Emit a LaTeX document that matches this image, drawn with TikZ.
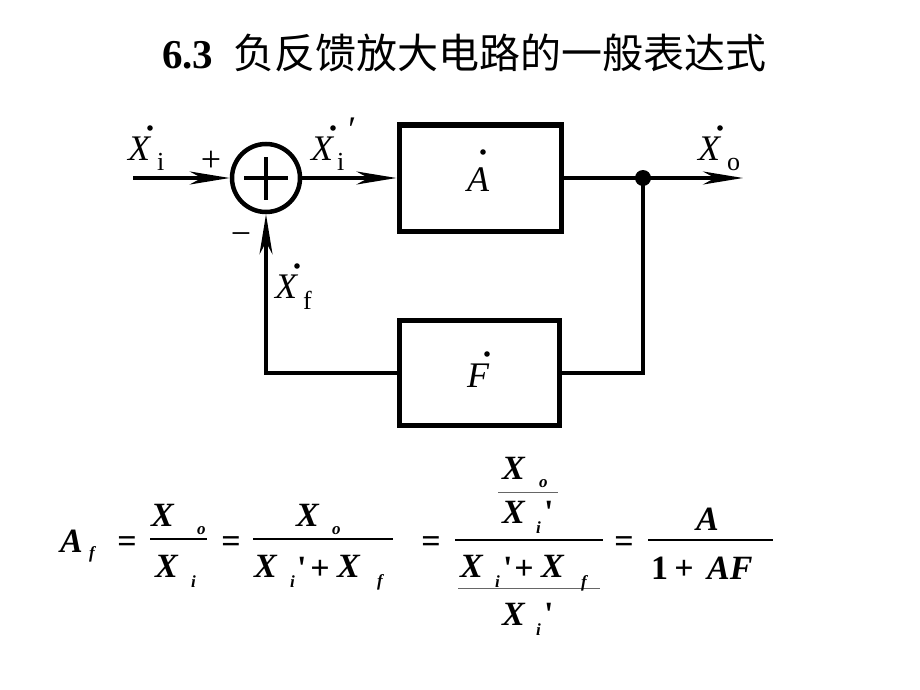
\documentclass[tikz,border=0pt]{standalone}
\usepackage{fontspec}
\setmainfont{Liberation Serif}
\newfontfamily\cjk{Noto Sans CJK SC}
\usetikzlibrary{arrows.meta}
\begin{document}
\begin{tikzpicture}[x=1pt,y=-1pt,
  conn/.style={line width=3.5pt},
  arr/.style={conn,-{Stealth[length=40pt,width=13pt,inset=12pt]}},
  blk/.style={draw,line width=5pt,minimum width=162pt,minimum height=106pt,inner sep=0pt},
  lab/.style={font=\fontsize{36}{40}\selectfont\itshape,inner sep=0pt,anchor=base west},
  sub/.style={font=\fontsize{26}{28}\selectfont,inner sep=0pt,anchor=base west},
  sgn/.style={font=\fontsize{36}{40}\selectfont,inner sep=0pt},
  dotm/.style={fill,radius=2.8pt},
  eq/.style={font=\fontsize{34}{37}\selectfont\bfseries\itshape,inner sep=0pt,anchor=base west},
  eqr/.style={font=\fontsize{34}{37}\selectfont\bfseries,inner sep=0pt},
  es/.style={font=\fontsize{17}{19}\selectfont\bfseries\itshape,inner sep=0pt,anchor=base west},
  fl/.style={line width=1.6pt},
  fls/.style={line width=0.9pt,black!60}]
\useasboundingbox[fill=white] (0,0) rectangle (920,690);

% title
\node[font=\fontsize{41}{44}\selectfont\bfseries,inner sep=0pt,anchor=base west] (t1) at (162,69) {6.3};
\node[font=\fontsize{41}{44}\selectfont\cjk,inner sep=0pt,anchor=base west] (t2) at (233,69) {负反馈放大电路的一般表达式};

% blocks
\node[draw,circle,line width=4.5pt,minimum size=68pt,inner sep=0pt] (sum) at (266,178) {};
\draw[line width=3.5pt] (244,178) -- (288,178) (266,157) -- (266,200);
\node[blk] (A) at (480,178) {};
\node[blk,minimum height=105pt,minimum width=160pt] (F) at (479.5,373) {};
\coordinate (in) at (133,178);
\coordinate (out) at (743,178);
\fill (643,178) circle[radius=8pt];
\coordinate (j) at (643,178);

% connectors
\draw[arr] (in) -- (sum.west);
\draw[arr] (sum.east) -- (A.west);
\draw[conn] (A.east) -- (j);
\draw[arr] (j) -- (out);
\draw[conn] (j) |- (F.east);
\draw[arr] (F.west) -| (sum.south);

% circuit labels
\node[lab] (lxi) at (128,160) {X};
\node[sub] (lxis) at (157,170) {i};
\fill[dotm] (150,128) circle;
\node[sgn] (plus) at (211,161) {+};
\node[sgn] (minus) at (241,239) {−};
\node[lab] (lxp) at (311,160) {X};
\node[sub] (lxps) at (337,170) {i};
\node[lab] (lxpp) at (346,141) {′};
\fill[dotm] (333,128) circle;
\node[lab] (lxo) at (698,160) {X};
\node[sub] (lxos) at (727,170) {o};
\fill[dotm] (720,128) circle;
\node[lab] (lxf) at (275,298) {X};
\node[sub] (lxfs) at (303,309) {f};
\fill[dotm] (297,266) circle;
\node[lab] (la) at (467,191) {A};
\fill[dotm] (483,152) circle;
\node[lab] (lf) at (467,387) {F};
\fill[dotm] (487,354) circle;

% equation
\node[eq] (e1) at (60,552) {A};
\node[es] (e1s) at (89,558) {f};
\node[eqr] (q1) at (127,545) {=};
\draw[fl] (150,539) -- (207,539);
\node[eq] (n1) at (151,526) {X};
\node[es] (n1s) at (197,534) {o};
\node[eq] (d1) at (155,577) {X};
\node[es] (d1s) at (191,587) {i};
\node[eqr] (q2) at (231,545) {=};
\draw[fl] (253,539) -- (393,539);
\node[eq] (n2) at (296,526) {X};
\node[es] (n2s) at (332,534) {o};
\node[eq] (d2a) at (254,577) {X};
\node[es] (d2as) at (290,587) {i};
\node[eqr,anchor=base west] (d2ap) at (297,579) {\textquotesingle};
\node[eqr] (d2p) at (320,570) {+};
\node[eq] (d2b) at (337,577) {X};
\node[es] (d2bs) at (377,586) {f};
\node[eqr] (q3) at (431,545) {=};
\draw[fl] (455,540) -- (603,540);
\draw[fls] (498,492) -- (558,492);
\draw[fls] (458,588) -- (600,588);
\node[eq] (n3) at (502,479) {X};
\node[es] (n3s) at (539,487) {o};
\node[eq] (n3d) at (502,523) {X};
\node[es] (n3ds) at (536,533) {i};
\node[eqr,anchor=base west] (n3dp) at (544,523) {\textquotesingle};
\node[eq] (d3a) at (460,577) {X};
\node[es] (d3as) at (495,587) {i};
\node[eqr,anchor=base west] (d3ap) at (503,579) {\textquotesingle};
\node[eqr] (d3p) at (524,570) {+};
\node[eq] (d3b) at (541,577) {X};
\node[es] (d3bs) at (581,587) {f};
\node[eq] (d3d) at (502,625) {X};
\node[es] (d3ds) at (536,635) {i};
\node[eqr,anchor=base west] (d3dp) at (544,625) {\textquotesingle};
\node[eqr] (q4) at (624,545) {=};
\draw[fl] (648,540) -- (773,540);
\node[eq] (n4) at (696,530) {A};
\node[eqr,anchor=base west] (d4a) at (651,579) {1};
\node[eqr] (d4p) at (684,570) {+};
\node[eq] (d4b) at (707,579) {AF};
\end{tikzpicture}
\end{document}
